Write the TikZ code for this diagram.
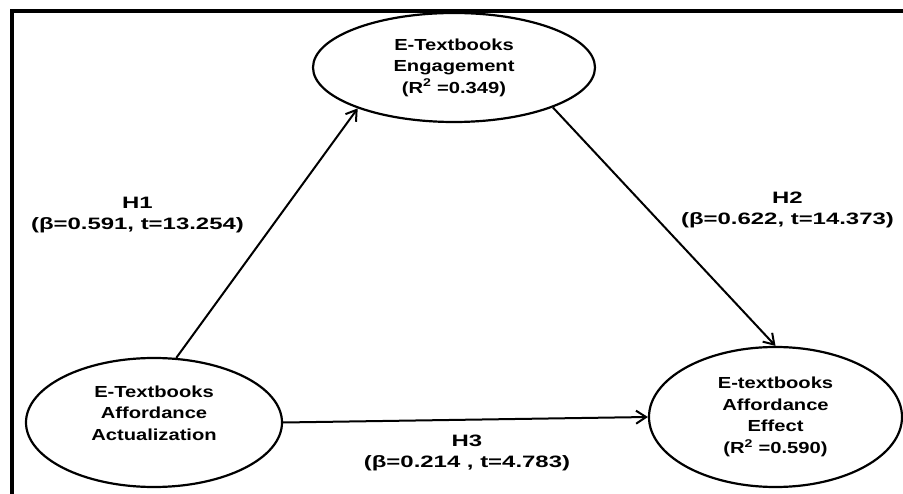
\documentclass[tikz,border=0pt]{standalone}
\usepackage{fontspec}
\setmainfont{Liberation Sans}
\newfontfamily\ovalfont{Liberation Sans}[FakeStretch=1.26]
\newfontfamily\hypfont{Liberation Sans}[FakeStretch=1.45]
\usetikzlibrary{shapes.geometric,arrows.meta}

\begin{document}
\begin{tikzpicture}[x=1pt, y=-1pt, thick,
                    main node/.style={ellipse,draw,line width=2.2pt,inner sep=0pt,align=center,
                                      font=\ovalfont\bfseries\fontsize{16}{21.5}\selectfont},
                    hyp node/.style={align=center,inner sep=0pt,font=\hypfont\bfseries\fontsize{16.5}{21}\selectfont},
                    path arrow/.style={line width=2pt,-{Straight Barb[length=10pt,width=13pt]}}]
                                    \useasboundingbox (0,0) rectangle (903,494);
                                    \draw[line width=4pt] (903,11) -- (12,11) -- (12,494);

                                    \node[main node, minimum width=282pt, minimum height=109pt] (1) at (454,67.5)
                                        {E-Textbooks\\Engagement\\(R\textsuperscript{2} =0.349)};
                                    \node[main node, minimum width=256pt, minimum height=129pt, text depth=19pt] (2) at (154,422.5)
                                        {E-Textbooks\\Affordance\\Actualization};
                                    \node[main node, minimum width=253pt, minimum height=140pt] (3) at (775.5,417)
                                        {E-textbooks\\Affordance\\Effect\\(R\textsuperscript{2} =0.590)};

                                    \node[hyp node] (h1) at (137.5,215.4) {H1\\(β=0.591, t=13.254)};
                                    \node[hyp node] (h2) at (787.5,210.4) {H2\\(β=0.622, t=14.373)};
                                    \node[hyp node] (h3) at (467,452.9) {H3\\(β=0.214 , t=4.783)};

                                    \path[path arrow]
                                        (2.71) edge (1.203)
                                        (1.338) edge (3.north)
                                        (2.east) edge (3.west);
                                \end{tikzpicture}
\end{document}
